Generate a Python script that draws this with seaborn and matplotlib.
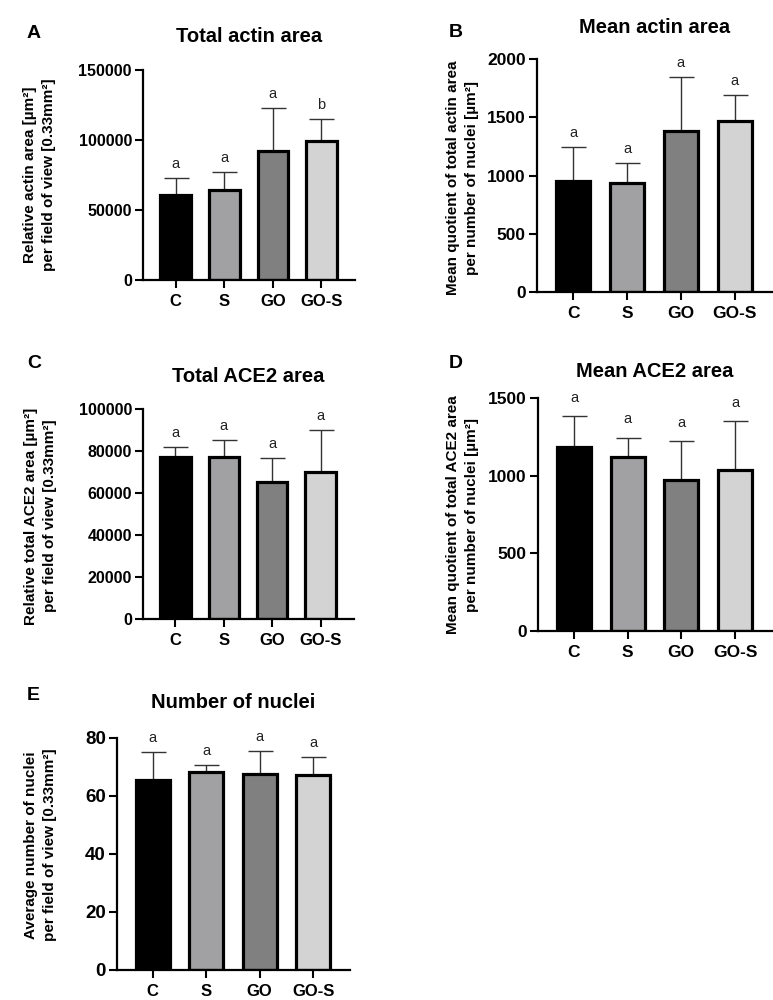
import numpy as np
import matplotlib
matplotlib.use("Agg")
import matplotlib.pyplot as plt
import seaborn as sns

# groups and bar colours
groups = ["C", "S", "GO", "GO-S"]
bar_colors = ["#000000", "#a0a0a5", "#808080", "#d3d3d3"]

# A - total actin area
actin_total_mean = [61000, 64300, 92100, 99000]
actin_total_upper = [72600, 76900, 123100, 115200]
actin_total_letters = ["a", "a", "a", "b"]

# B - mean actin area
actin_mean_mean = [950, 938, 1379, 1471]
actin_mean_upper = [1242, 1110, 1845, 1694]
actin_mean_letters = ["a", "a", "a", "a"]

# C - total ACE2 area
ace2_total_mean = [77100, 77100, 65200, 70000]
ace2_total_upper = [81900, 85100, 76700, 90200]
ace2_total_letters = ["a", "a", "a", "a"]

# D - mean ACE2 area
ace2_mean_mean = [1187, 1118, 975, 1039]
ace2_mean_upper = [1382, 1245, 1223, 1354]
ace2_mean_letters = ["a", "a", "a", "a"]

# E - number of nuclei
nuclei_mean = [65.4, 68.3, 67.5, 67.2]
nuclei_upper = [75.3, 70.7, 75.5, 73.5]
nuclei_letters = ["a", "a", "a", "a"]

sns.set_style("ticks")
plt.rcParams["font.family"] = ["Liberation Sans", "DejaVu Sans"]
plt.rcParams["font.weight"] = "bold"
for k in ["text.color", "axes.labelcolor", "xtick.color", "ytick.color", "axes.edgecolor"]:
    plt.rcParams[k] = "black"

W, H = 773, 1000
fig = plt.figure(figsize=(W / 100, H / 100), dpi=100)


def px_axes(left, top, right, bottom):
    return fig.add_axes([left / W, 1 - bottom / H, (right - left) / W, (bottom - top) / H])


def panel(box, means, upper, letters, yticks, title, title_pad, ylabel, ylab_xy,
          letter_off, ysize, xsize):
    ax = px_axes(*box)
    sns.barplot(x=groups, y=means, hue=groups, palette=bar_colors, legend=False,
                edgecolor="black", linewidth=2.3, width=0.63, ax=ax, zorder=2)
    x = np.arange(len(groups))
    m = np.array(means)
    up = np.array(upper) - m
    ax.errorbar(x, m, yerr=[np.zeros_like(m), up], fmt="none", ecolor="#333333",
                elinewidth=1.0, capsize=9, capthick=1.0, zorder=1)
    for xi, top, lab in zip(x, upper, letters):
        ax.annotate(lab, (xi, top), xytext=(0, letter_off), textcoords="offset points",
                    ha="center", va="bottom", fontsize=10.5, fontweight="normal",
                    color="#222222")
    ax.set_xlim(-0.67, 3.69)
    ax.set_ylim(0, yticks[-1])
    ax.set_yticks(yticks)
    ax.set_yticklabels([str(t) for t in yticks])
    sns.despine(ax=ax)
    for s in ["left", "bottom"]:
        ax.spines[s].set_linewidth(1.6)
        ax.spines[s].set_color("black")
    ax.tick_params(axis="both", length=6, width=1.5, colors="black")
    ax.tick_params(axis="y", pad=2, labelsize=ysize)
    ax.tick_params(axis="x", pad=4, labelsize=xsize)
    for t in ax.get_xticklabels() + ax.get_yticklabels():
        t.set_fontweight("bold")
    ax.set_title(title, fontsize=14.5, fontweight="bold", pad=title_pad, color="black")
    ax.set_ylabel(ylabel, fontsize=11, fontweight="bold", linespacing=1.45, color="black")
    ax.yaxis.set_label_coords(*ylab_xy)
    ax.set_xlabel("")
    return ax


panel((143, 70, 355, 280), actin_total_mean, actin_total_upper, actin_total_letters,
      [0, 50000, 100000, 150000], "Total actin area", 20,
      "Relative actin area [µm²]\nper field of view [0.33mm²]", (-0.41, 0.5), 5, 11.5, 12)
panel((537, 59, 772, 292), actin_mean_mean, actin_mean_upper, actin_mean_letters,
      [0, 500, 1000, 1500, 2000], "Mean actin area", 19,
      "Mean quotient of total actin area\nper number of nuclei [µm²]", (-0.247, 0.49), 5, 12.5, 12.5)
panel((143, 409, 354, 619), ace2_total_mean, ace2_total_upper, ace2_total_letters,
      [0, 20000, 40000, 60000, 80000, 100000], "Total ACE2 area", 19.5,
      "Relative total ACE2 area [µm²]\nper field of view [0.33mm²]", (-0.408, 0.49), 5, 11.5, 12)
panel((538, 398, 772, 631), ace2_mean_mean, ace2_mean_upper, ace2_mean_letters,
      [0, 500, 1000, 1500], "Mean ACE2 area", 15,
      "Mean quotient of total ACE2 area\nper number of nuclei [µm²]", (-0.252, 0.5), 8, 12.5, 12.5)
panel((117, 738, 350, 970), nuclei_mean, nuclei_upper, nuclei_letters,
      [0, 20, 40, 60, 80], "Number of nuclei", 21.5,
      "Average number of nuclei\nper field of view [0.33mm²]", (-0.258, 0.54), 5, 13.5, 12)

for lab, xp, yp in [("A", 27, 38), ("B", 449, 37), ("C", 27, 368), ("D", 449, 368), ("E", 27, 700)]:
    fig.text(xp / W, 1 - yp / H, lab, fontsize=14, fontweight="bold", va="baseline", ha="left")

fig.savefig("out.png", dpi=100)
